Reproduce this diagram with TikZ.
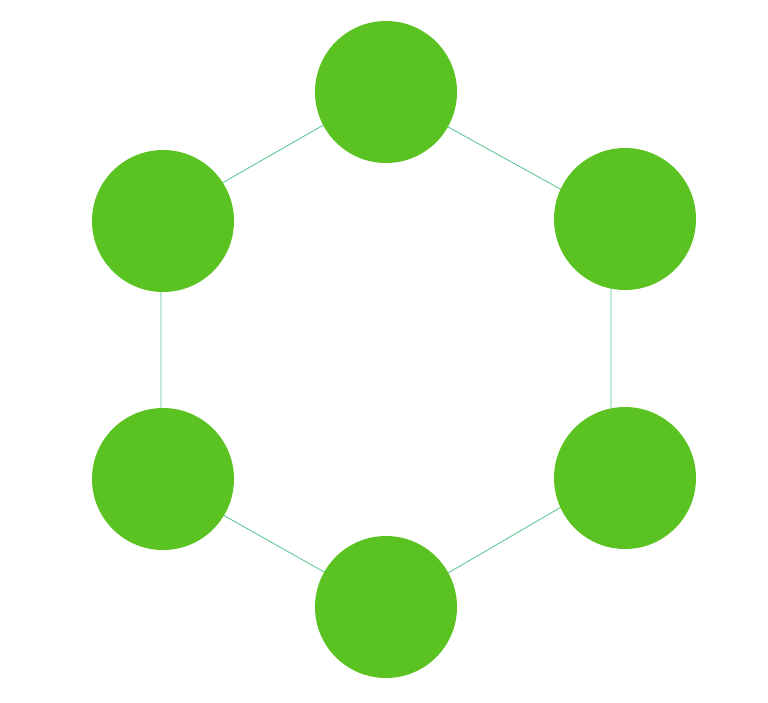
\documentclass[tikz,border=0pt]{standalone}
\definecolor{ringgreen}{RGB}{91,195,33}
\definecolor{linkgreen}{RGB}{82,198,140}
\begin{document}
\begin{tikzpicture}[
        x=1pt, y=-1pt,
        ringnode/.style={circle, fill=ringgreen, draw=none, minimum size=142pt, inner sep=0pt},
        link/.style={draw=linkgreen, line width=0.8pt},
    ]
    \useasboundingbox (0,0) rectangle (768,702);

    % hexagon corners for the links
    \coordinate (ctop) at (383,91);
    \coordinate (ctr) at (611,217);
    \coordinate (cbr) at (611,478);
    \coordinate (cbot) at (388,608);
    \coordinate (cbl) at (161,480);
    \coordinate (ctl) at (161,218);

    \draw[link] (ctop) -- (ctr) -- (cbr) -- (cbot) -- (cbl) -- (ctl) -- cycle;

    \node[ringnode] (top) at (386,92) {};
    \node[ringnode] (topright) at (625,219) {};
    \node[ringnode] (botright) at (625,478) {};
    \node[ringnode] (bot) at (386,607) {};
    \node[ringnode] (botleft) at (163,479) {};
    \node[ringnode] (topleft) at (163,221) {};

\end{tikzpicture}
\end{document}
